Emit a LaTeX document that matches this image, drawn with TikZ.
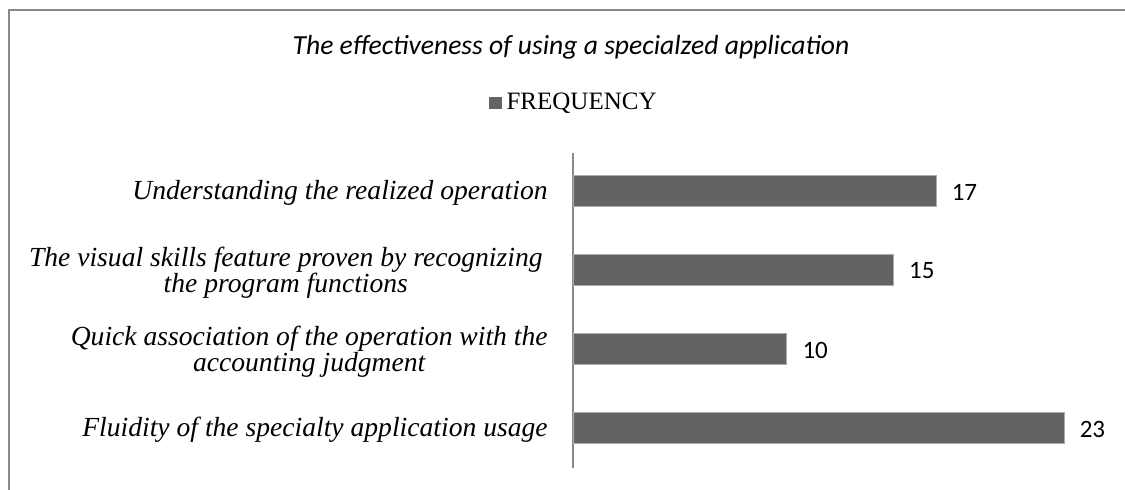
\documentclass[tikz,border=0pt]{standalone}
\usepackage{fontspec}
\setmainfont{Liberation Serif}
\newfontfamily\calibrifont{Carlito}
\usetikzlibrary{positioning, calc}

\definecolor{barfill}{HTML}{636363}
\definecolor{axisgray}{HTML}{888888}
\newcommand{\barunit}{10.665pt}

\tikzset{
  barbox/.style={anchor=west, fill=barfill, draw=axisgray!70, line width=0.4pt, minimum height=15.75pt, inner sep=0pt},
  category/.style={anchor=east, align=center, inner sep=0pt, font=\fontsize{13.8}{13.2}\selectfont\itshape},
  valuelabel/.style={anchor=west, inner sep=0pt, font=\calibrifont\fontsize{12.5}{14}\selectfont}
}

\begin{document}
\begin{tikzpicture}[x=0.5pt, y=-0.5pt]
        		\clip (0,0) rectangle (1125,489);
        		\draw[axisgray, line width=0.6pt] (9,10) rectangle (1140,500);

        		\node (Title) at (571,47) [font=\calibrifont\itshape\fontsize{13.8}{16}\selectfont]{The effectiveness of using a specialzed application};
        		\node (LegendKey) at (495.5,103) [fill=barfill, minimum size=6.25pt, inner sep=0pt]{};
        		\node (LegendText) at ($(LegendKey.east) + (4,0)$) [anchor=west, inner sep=0pt, font=\fontsize{12.5}{15}\selectfont]{FREQUENCY};

        		\coordinate (AxisTop) at (573,153);
        		\coordinate (AxisBottom) at (573,468);
        		\draw[axisgray, line width=0.6pt] (AxisTop) -- (AxisBottom);

        		\node (BarUnderstanding) at ($(AxisTop) + (0,38)$) [barbox, minimum width=17*\barunit]{};
        		\node (BarVisual) at ($(BarUnderstanding.west) + (0,79)$) [barbox, minimum width=15*\barunit]{};
        		\node (BarQuick) at ($(BarVisual.west) + (0,79)$) [barbox, minimum width=10*\barunit]{};
        		\node (BarFluidity) at ($(BarQuick.west) + (0,79)$) [barbox, minimum width=23*\barunit]{};

        		\node (ValUnderstanding) at ($(BarUnderstanding.east) + (15,1)$) [valuelabel]{17};
        		\node (ValVisual) at ($(BarVisual.east) + (15,1)$) [valuelabel]{15};
        		\node (ValQuick) at ($(BarQuick.east) + (15,1)$) [valuelabel]{10};
        		\node (ValFluidity) at ($(BarFluidity.east) + (15,1)$) [valuelabel]{23};

        		\node (LblUnderstanding) at ($(BarUnderstanding.west) + (-25,2)$) [category]{Understanding the realized operation};
        		\node (LblVisual) at ($(BarVisual.west) + (-30,3)$) [category]{The visual skills feature proven by recognizing\\the program functions};
        		\node (LblQuick) at ($(BarQuick.west) + (-25,3)$) [category]{Quick association of the operation with the\\accounting judgment};
        		\node (LblFluidity) at ($(BarFluidity.west) + (-25,2)$) [category]{Fluidity of the specialty application usage};
		    \end{tikzpicture}
\end{document}
